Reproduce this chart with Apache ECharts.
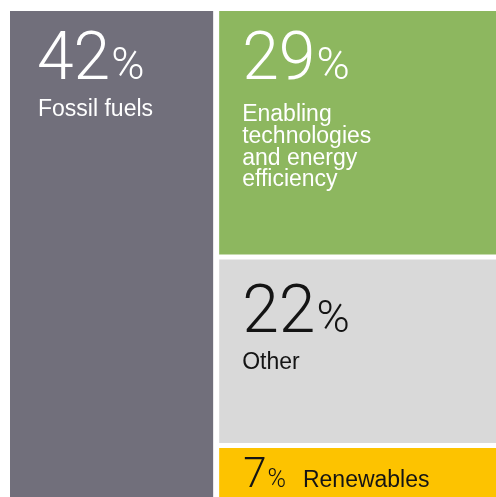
<!DOCTYPE html>
<html>
<head>
<meta charset="utf-8">
<script src="https://cdn.jsdelivr.net/npm/echarts@6/dist/echarts.min.js"></script>
<style>
  html, body { margin: 0; padding: 0; background: #ffffff; }
  #chart { width: 496px; height: 497px; }
</style>
</head>
<body>
<div id="chart"></div>
<script>
// Share of investment by area (%)
const sectors = ['Fossil fuels', 'Enabling technologies and energy efficiency', 'Other', 'Renewables'];
const shares = [42, 29, 22, 7];
const nameLines = [
  ['Fossil fuels'],
  ['Enabling', 'technologies', 'and energy', 'efficiency'],
  ['Other'],
  ['Renewables']
];
const colors = ['#716f7b', '#8db75f', '#d9d9d9', '#fdc300'];

const NUM_FONT = 'Roboto, "Liberation Sans", sans-serif';
const TEXT_FONT = '"Liberation Sans", Arial, sans-serif';

// Stacked label: big percentage on the first line, the sector name below
function blockLabel(i, o) {
  const lines = ['{num|' + shares[i] + '}{pct|%}'].concat(
    nameLines[i].map(function (t) { return '{name|' + t + '}'; })
  );
  return {
    show: true,
    position: 'insideTopLeft',
    distance: 0,
    padding: [o.top, 0, 0, o.left],
    formatter: lines.join('\n'),
    rich: {
      num: { fontFamily: NUM_FONT, fontWeight: 300, fontSize: 66, lineHeight: o.lh, color: o.color },
      // pushed down so it shares the digits' baseline
      pct: { fontFamily: NUM_FONT, fontWeight: 300, fontSize: 45, padding: [11, 0, 0, 1], color: o.color },
      name: { fontFamily: TEXT_FONT, fontSize: 23, lineHeight: 21.7, padding: [0, 0, 0, o.nameShift || 0], color: o.color }
    }
  };
}

// Single-line label for the small block
function inlineLabel(i, o) {
  return {
    show: true,
    position: 'insideTopLeft',
    distance: 0,
    padding: [o.top, 0, 0, o.left],
    formatter: '{num|' + shares[i] + '}{pct|%}{name|' + nameLines[i][0] + '}',
    rich: {
      num: { fontFamily: NUM_FONT, fontWeight: 300, fontSize: 42, lineHeight: 42, color: o.color },
      pct: { fontFamily: NUM_FONT, fontWeight: 300, fontSize: 25, padding: [9, 0, 0, 1], color: o.color },
      name: { fontFamily: TEXT_FONT, fontSize: 23, padding: [10, 0, 0, 17], color: o.color }
    }
  };
}

function leaf(i, label) {
  return {
    name: sectors[i],
    value: shares[i],
    itemStyle: { color: colors[i] },
    label: label
  };
}

const fossil = leaf(0, blockLabel(0, { top: 15, left: 27, lh: 73, nameShift: 1, color: '#ffffff' }));
const enabling = leaf(1, blockLabel(1, { top: 10, left: 23, lh: 83, color: '#ffffff' }));
const other = leaf(2, blockLabel(2, { top: 19, left: 23, lh: 73, color: '#141414' }));
const renewables = leaf(3, inlineLabel(3, { top: 7, left: 24, color: '#141414' }));

// Right-hand column: (enabling + other) above renewables
const upper = { name: 'upper', value: shares[1] + shares[2], children: [enabling, other] };
const rightColumn = { name: 'right', value: shares[1] + shares[2] + shares[3], children: [upper, renewables] };

const chart = echarts.init(document.getElementById('chart'), null, { renderer: 'canvas' });
chart.setOption({
  animation: false,
  series: [{
    type: 'treemap',
    left: 10,
    top: 11,
    right: -6,
    bottom: -6,
    sort: false,
    roam: false,
    nodeClick: false,
    breadcrumb: { show: false },
    itemStyle: { borderWidth: 0, borderColor: '#ffffff' },
    levels: [
      { itemStyle: { borderWidth: 0, gapWidth: 6 } },
      { itemStyle: { borderWidth: 0, gapWidth: 5 } },
      { itemStyle: { borderWidth: 0, gapWidth: 5 } },
      { itemStyle: { borderWidth: 0 } }
    ],
    data: [fossil, rightColumn]
  }],
  graphic: [{
    type: 'group',
    right: -4,
    top: 486,
    children: [
      { type: 'line', shape: { x1: 0, y1: 4, x2: 34, y2: 4 }, style: { stroke: '#1a1a1a', lineWidth: 1.5 } },
      { type: 'circle', shape: { cx: 0, cy: 4, r: 3.5 }, style: { fill: '#1a1a1a' } }
    ]
  }]
});
</script>
</body>
</html>
